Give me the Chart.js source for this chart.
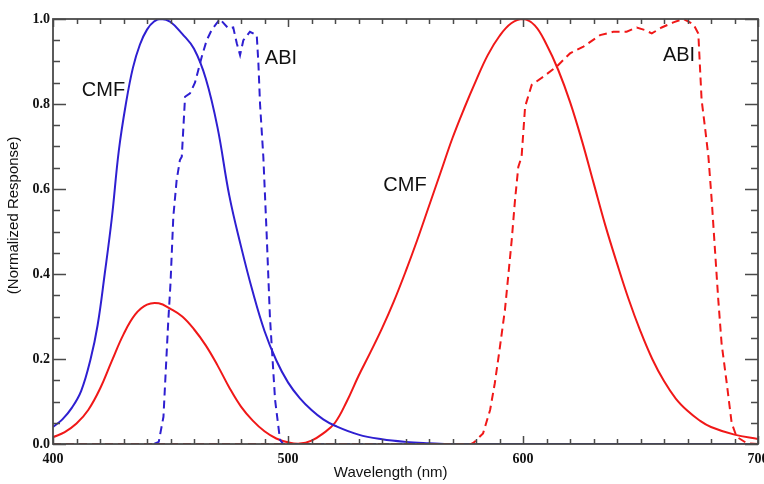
<!DOCTYPE html>
<html>
<head>
<meta charset="UTF-8">
<script src="https://cdn.jsdelivr.net/npm/chart.js@4.4.0/dist/chart.umd.min.js"></script>
<style>
  html, body { margin: 0; padding: 0; background: #fff; overflow: hidden; }
  #wrap { width: 764px; height: 484px; }
</style>
</head>
<body>
<div id="wrap"><canvas id="chart" width="764" height="484"></canvas></div>
<script>
// Wavelength (nm) / normalized response
const blueCmfX = [400, 404, 408, 412, 416, 419, 422, 425, 428, 431, 434, 437, 440, 443, 446, 450, 455, 460, 465, 470, 475, 480, 485, 490, 495, 500, 505, 510, 515, 520, 530, 540, 550, 560, 570, 600, 650, 700];
const blueCmfY = [0.04, 0.058, 0.085, 0.125, 0.2, 0.28, 0.4, 0.53, 0.69, 0.8, 0.885, 0.94, 0.975, 0.994, 1.0, 0.993, 0.965, 0.93, 0.86, 0.745, 0.585, 0.465, 0.358, 0.266, 0.197, 0.145, 0.108, 0.08, 0.058, 0.043, 0.022, 0.011, 0.005, 0.002, 0.0, 0.0, 0.0, 0.0];

const redCmfX = [400, 405, 410, 415, 420, 425, 430, 435, 440, 445, 450, 455, 460, 465, 470, 475, 480, 485, 490, 495, 500, 505, 510, 515, 520, 525, 530, 535, 540, 545, 550, 555, 560, 565, 570, 575, 580, 585, 590, 595, 600, 605, 610, 615, 620, 625, 630, 635, 640, 645, 650, 655, 660, 665, 670, 675, 680, 690, 700];
const redCmfY = [0.016, 0.028, 0.048, 0.08, 0.13, 0.195, 0.258, 0.305, 0.328, 0.331, 0.318, 0.3, 0.27, 0.232, 0.185, 0.133, 0.088, 0.055, 0.03, 0.013, 0.004, 0.001, 0.008, 0.025, 0.05, 0.1, 0.16, 0.215, 0.272, 0.335, 0.405, 0.48, 0.56, 0.64, 0.72, 0.79, 0.855, 0.915, 0.96, 0.99, 1.0, 0.985, 0.94, 0.88, 0.805, 0.715, 0.615, 0.515, 0.425, 0.34, 0.265, 0.2, 0.148, 0.107, 0.078, 0.056, 0.04, 0.022, 0.012];

const blueAbiX = [443, 445, 447, 449, 450, 451.2, 452.6, 454, 454.8, 456.2, 458.3, 460.4, 463.3, 465.4, 467.5, 471, 474.6, 476.7, 478.2, 479.6, 481, 483.8, 486.7, 487.4, 488.1, 489.5, 490.9, 492.3, 494.5, 496.6, 498, 700];
const blueAbiY = [0, 0.005, 0.064, 0.284, 0.378, 0.535, 0.62, 0.668, 0.676, 0.817, 0.825, 0.85, 0.911, 0.95, 0.974, 1.0, 0.978, 0.98, 0.943, 0.915, 0.95, 0.97, 0.962, 0.896, 0.80, 0.676, 0.496, 0.30, 0.104, 0.01, 0, 0];

const redAbiX = [400, 578, 579, 583, 586, 588, 590, 592.3, 593.7, 595.2, 596.6, 598, 599.4, 600.9, 603.7, 608.6, 614.3, 620, 625.7, 632.8, 638.4, 644.1, 648.4, 651.9, 654.8, 659, 664, 668.2, 672.5, 674.6, 675.3, 676, 677.4, 678.9, 680.3, 681.7, 683.1, 684.5, 686.7, 688.8, 690.9, 695.2, 700];
const redAbiY = [0, 0, 0.003, 0.025, 0.08, 0.143, 0.221, 0.315, 0.394, 0.48, 0.574, 0.652, 0.676, 0.794, 0.845, 0.864, 0.888, 0.919, 0.935, 0.962, 0.97, 0.97, 0.98, 0.974, 0.966, 0.98, 0.992, 1.0, 0.988, 0.966, 0.888, 0.81, 0.747, 0.676, 0.574, 0.456, 0.339, 0.237, 0.143, 0.049, 0.017, 0.002, 0];

// in-plot labels (data coordinates)
const labelText = ['CMF', 'ABI', 'CMF', 'ABI'];
const labelX = [421.5, 497, 549.8, 666.4];
const labelY = [0.832, 0.906, 0.609, 0.913];

const xTitle = 'Wavelength (nm)';
const yTitle = '(Normalized Response)';

const xMin = 400, xMax = 700, xStep = 100, xMinor = 10;
const yMin = 0, yMax = 1.0, yStep = 0.2, yMinor = 0.05;

const BLUE = '#2e1fd1';
const RED = '#f01818';
const FRAME = '#4a4a4a';
const SANS = '"Liberation Sans", Arial, sans-serif';
const SERIF = '"Liberation Serif", "Times New Roman", serif';

const pts = (xs, ys) => xs.map((x, i) => ({ x: x, y: ys[i] }));

// frame, inward ticks, axis titles and the CMF / ABI labels
const decorations = {
  id: 'decorations',
  afterDatasetsDraw(chart) {
    const { ctx, chartArea: a, scales: { x, y } } = chart;
    ctx.save();
    ctx.strokeStyle = FRAME;
    ctx.lineWidth = 1.5;
    ctx.beginPath();
    for (let v = xMin; v <= xMax + 0.001; v += xMinor) {
      const px = Math.round(x.getPixelForValue(v)) + 0.5;
      const len = (Math.abs(v % xStep) < 0.001) ? 8 : 5;
      ctx.moveTo(px, a.bottom); ctx.lineTo(px, a.bottom - len);
      ctx.moveTo(px, a.top); ctx.lineTo(px, a.top + len);
    }
    for (let i = 0; i <= Math.round((yMax - yMin) / yMinor); i++) {
      const v = yMin + i * yMinor;
      const py = Math.round(y.getPixelForValue(v)) + 0.5;
      const len = (i % 4 === 0) ? 13 : 7;
      ctx.moveTo(a.left, py); ctx.lineTo(a.left + len, py);
      ctx.moveTo(a.right, py); ctx.lineTo(a.right - len, py);
    }
    ctx.stroke();
    ctx.lineWidth = 1.8;
    ctx.strokeRect(a.left, a.top, a.right - a.left, a.bottom - a.top);

    ctx.fillStyle = '#111';
    ctx.textAlign = 'center';
    ctx.textBaseline = 'middle';
    ctx.font = '20px ' + SANS;
    labelText.forEach((t, i) => {
      ctx.fillText(t, x.getPixelForValue(labelX[i]), y.getPixelForValue(labelY[i]));
    });

    // axis titles sit a little left / above the plot centre in the original
    ctx.font = '15px ' + SANS;
    ctx.fillText(xTitle, a.left + (a.right - a.left) * 0.479, a.bottom + 29);
    ctx.save();
    ctx.translate(14, a.top + (a.bottom - a.top) * 0.462);
    ctx.rotate(-Math.PI / 2);
    ctx.fillText(yTitle, 0, 0);
    ctx.restore();
    ctx.restore();
  }
};

new Chart(document.getElementById('chart'), {
  type: 'line',
  data: {
    datasets: [
      { label: 'ABI red', data: pts(redAbiX, redAbiY), borderColor: RED, borderWidth: 2, borderDash: [8, 5], pointRadius: 0, tension: 0 },
      { label: 'ABI blue', data: pts(blueAbiX, blueAbiY), borderColor: BLUE, borderWidth: 2, borderDash: [8, 5], pointRadius: 0, tension: 0 },
      { label: 'CMF blue', data: pts(blueCmfX, blueCmfY), borderColor: BLUE, borderWidth: 2, pointRadius: 0, tension: 0.4 },
      { label: 'CMF red', data: pts(redCmfX, redCmfY), borderColor: RED, borderWidth: 2, pointRadius: 0, tension: 0.4 }
    ]
  },
  options: {
    responsive: false,
    animation: false,
    layout: { padding: { top: 19, right: 6, left: 0, bottom: 0 } },
    plugins: { legend: { display: false }, tooltip: { enabled: false } },
    scales: {
      x: {
        type: 'linear',
        min: xMin, max: xMax,
        grid: { display: false, drawTicks: false },
        border: { display: false },
        ticks: {
          stepSize: xStep, padding: 7, color: '#111',
          font: { family: SERIF, size: 14, weight: 'bold' }
        },
        afterFit(scale) { scale.height = 40; scale.paddingLeft = 0; scale.paddingRight = 0; }
      },
      y: {
        min: yMin, max: yMax,
        grid: { display: false, drawTicks: false },
        border: { display: false },
        ticks: {
          stepSize: yStep, padding: 3, color: '#111',
          font: { family: SERIF, size: 14, weight: 'bold' },
          callback: v => Number(v).toFixed(1)
        },
        afterFit(scale) { scale.width = 53; scale.paddingTop = 0; scale.paddingBottom = 0; }
      }
    }
  },
  plugins: [decorations]
});
</script>
</body>
</html>
